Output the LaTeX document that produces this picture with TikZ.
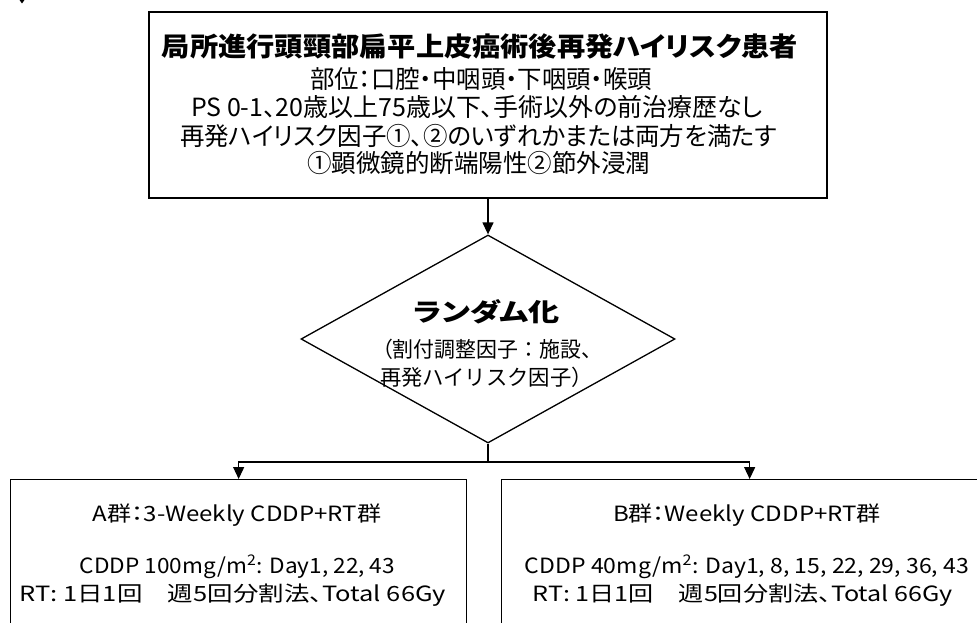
\documentclass[tikz,border=0pt]{standalone}
\usepackage{fontspec}
\newfontfamily\jpt[RawFeature=+palt]{Noto Sans CJK JP}
\newfontfamily\jpf{Noto Sans CJK JP}
\usetikzlibrary{shapes.geometric,arrows.meta}
% set a text line to a given width, keeping its natural height
\newcommand{\fitw}[2]{\resizebox{#1}{\height}{#2}}
\tikzset{
  box/.style={draw=black, line width=1.3pt, inner sep=0pt, fill=white},
  lbl/.style={inner sep=0pt, anchor=center},
  titlef/.style={font=\jpt\bfseries\fontsize{26.5}{30}\selectfont},
  bodyf/.style={font=\jpt\fontsize{25}{28}\selectfont},
  randf/.style={font=\jpt\bfseries\fontsize{25}{30}\selectfont},
  dsubf/.style={font=\jpf\fontsize{21.5}{25}\selectfont},
  armf/.style={font=\jpt\fontsize{21}{24}\selectfont},
  arr/.style={line width=1.3pt, -{Triangle[length=12pt,width=11pt]}},
  conn/.style={line width=1.3pt}
}
\begin{document}
\begin{tikzpicture}[x=1pt,y=-1pt]
\useasboundingbox (0,0) rectangle (977,623);
% stray partial arrowhead at the top left
\fill (19.5,0) -- (24.5,0) -- (22,3.5) -- cycle;
% boxes
\node[box, minimum width=678pt, minimum height=186pt] (top) at (488,105) {};
\node[draw=black, line width=1.3pt, fill=white, shape=diamond, inner sep=0pt,
      minimum width=374pt, minimum height=208pt] (dia) at (488,339) {};
\node[box, minimum width=456pt, minimum height=170pt, anchor=north west] (A) at (10,479) {};
\node[box, minimum width=498pt, minimum height=170pt, anchor=north west] (B) at (501,479) {};
% top box text
\node[lbl, titlef] (t1) at (480,46) {\fitw{636pt}{局所進行頭頸部扁平上皮癌術後再発ハイリスク患者}};
\node[lbl, bodyf] (t2) at (481,79) {\fitw{342pt}{部位：口腔・中咽頭・下咽頭・喉頭}};
\node[lbl, bodyf] (t3) at (477,107) {\fitw{572pt}{PS 0-1、20歳以上75歳以下、手術以外の前治療歴なし}};
\node[lbl, bodyf] (t4) at (478.5,136) {\fitw{597pt}{再発ハイリスク因子①、②のいずれかまたは両方を満たす}};
\node[lbl, bodyf] (t5) at (478.5,163) {\fitw{343pt}{①顕微鏡的断端陽性②節外浸潤}};
% diamond text
\node[lbl, randf] (d1) at (486.5,312) {\fitw{147pt}{ランダム化}};
\node[lbl, dsubf] (d2) at (487,349) {\fitw{230pt}{（割付調整因子：施設、}};
\node[lbl, dsubf] (d3) at (486.5,377) {\fitw{213pt}{再発ハイリスク因子）}};
% arm texts
\node[lbl, armf] (a1) at (237,515) {\fitw{288pt}{A群：3-Weekly CDDP+RT群}};
\node[lbl, armf] (a2) at (237.5,567) {\fitw{315pt}{CDDP 100mg/m\textsuperscript{2}: Day1, 22, 43}};
\node[lbl, armf] (a3) at (233,595) {\fitw{426pt}{RT: 1日1回　週5回分割法、Total 66Gy}};
\node[lbl, armf] (b1) at (747,515) {\fitw{268pt}{B群：Weekly CDDP+RT群}};
\node[lbl, armf] (b2) at (747,567) {\fitw{444pt}{CDDP 40mg/m\textsuperscript{2}: Day1, 8, 15, 22, 29, 36, 43}};
\node[lbl, armf] (b3) at (743,595) {\fitw{420pt}{RT: 1日1回　週5回分割法、Total 66Gy}};
% connectors
\coordinate (split) at (488,462);
\draw[arr] (top.south) -- (dia.north);
\draw[conn] (dia.south) -- (split);
\draw[arr] (split) -| (A.north);
\draw[arr] (split) -| ([xshift=-1pt]B.north);
\end{tikzpicture}
\end{document}
